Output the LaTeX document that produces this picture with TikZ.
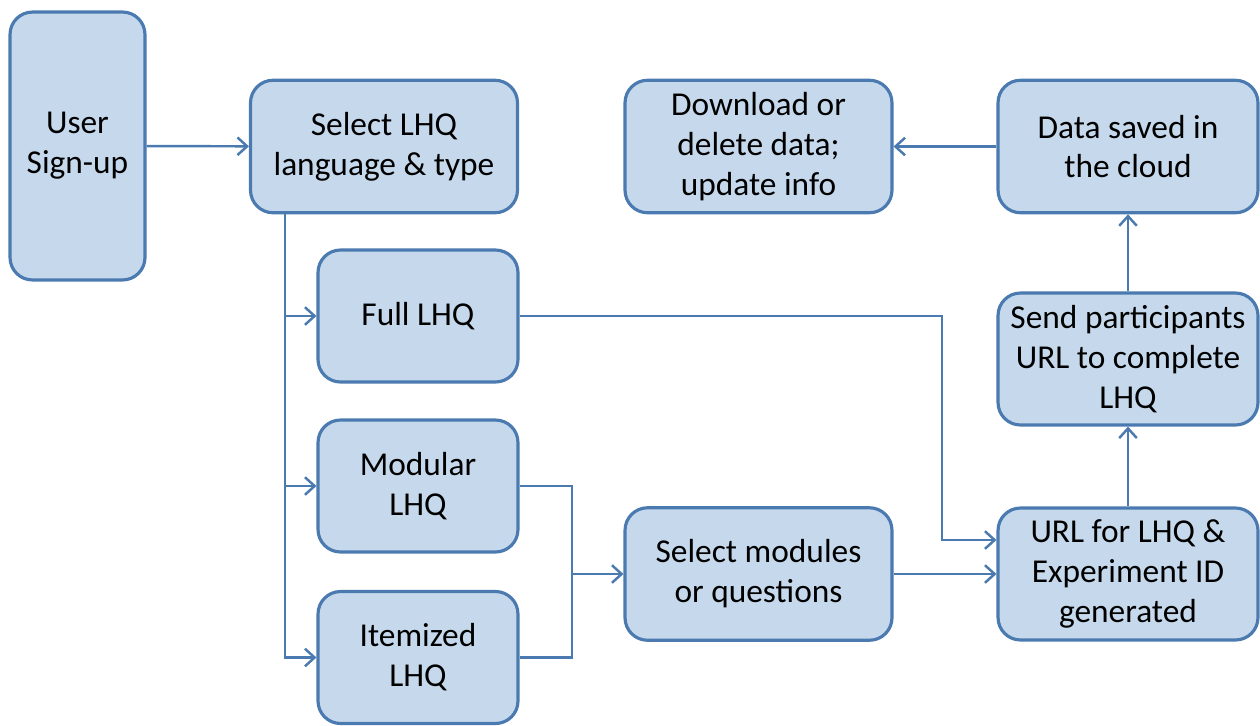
\documentclass[tikz,border=0pt]{standalone}
\usepackage{fontspec}
\setmainfont{Carlito}
\usepackage{xcolor}
\usetikzlibrary{arrows.meta}
\definecolor{boxfill}{HTML}{C6D9EC}
\definecolor{boxline}{HTML}{4A7AB0}

\begin{document}
\begin{tikzpicture}[x=0.02cm,y=-0.02cm,
  box/.style={draw=boxline,fill=boxfill,line width=1.8pt,rounded corners=0.45cm,
    align=center,font=\fontsize{19}{22.7}\selectfont,inner sep=0pt},
  wide/.style={box,minimum width=5.34cm,minimum height=2.65cm},
  narrow/.style={box,minimum width=4cm,minimum height=2.64cm},
  line/.style={draw=boxline,line width=1.4pt},
  arrow/.style={line,-{Straight Barb[length=5.5pt,width=10pt]}}]
\useasboundingbox (0,0) rectangle (1260,725);

% Sign-up and choice of LHQ
\node[box,minimum width=2.7cm,minimum height=5.36cm] (signup) at (77.5,146) {User\\Sign-up};
\node[wide] (lang) at (384,146.5) {Select LHQ\\language \& type};
\draw[arrow] (signup) -- (lang);

% Three LHQ types
\node[narrow] (full) at (418,316) {Full LHQ};
\node[narrow] (modular) at (418,486) {Modular\\LHQ};
\node[narrow] (itemized) at (418,657.5) {Itemized\\LHQ};
\coordinate (spine) at (285,0);
\draw[arrow] (lang.south -| spine) |- (full);
\draw[arrow] (lang.south -| spine) |- (modular);
\draw[arrow] (lang.south -| spine) |- (itemized);

% Modules or questions
\node[wide] (selmod) at (758.5,574) {Select modules\\or questions};
\coordinate (merge) at (572,574);
\draw[line] (modular) -| (merge);
\draw[line] (itemized) -| (merge);
\draw[arrow] (merge) -- (selmod);

% URL and participants
\node[box,minimum width=5.2cm,minimum height=2.64cm] (url) at (1128,574) {URL for LHQ \&\\Experiment ID\\generated};
\node[box,minimum width=5.2cm,minimum height=2.64cm] (send) at (1128,359) {Send participants\\URL to complete\\LHQ};
\coordinate (drop) at (942,540);
\draw[arrow] (full) -| (drop) -- (drop -| url.west);
\draw[arrow] (selmod) -- (url);
\draw[arrow] (url) -- (send);

% Data
\node[box,minimum width=5.2cm,minimum height=2.65cm] (cloud) at (1128,146.5) {Data saved in\\the cloud};
\node[wide] (download) at (758.5,146.5) {Download or\\delete data;\\update info};
\draw[arrow] (send) -- (cloud);
\draw[arrow] (cloud) -- (download);
\end{tikzpicture}
\end{document}
